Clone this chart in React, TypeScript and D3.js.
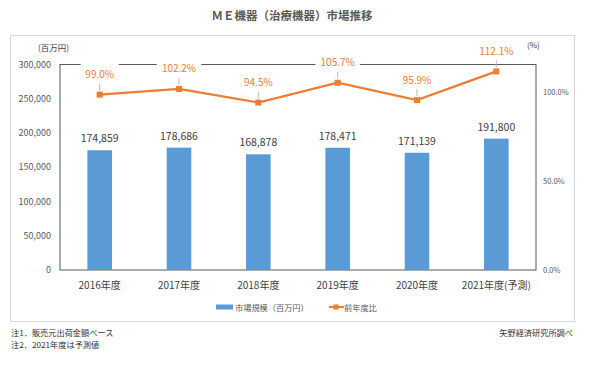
import React, { useEffect, useRef } from 'react';
import * as d3 from 'd3';

const categories = ['2016年度', '2017年度', '2018年度', '2019年度', '2020年度', '2021年度(予測)'];
const marketSize = [174859, 178686, 168878, 178471, 171139, 191800];
const yoyRatio = [99.0, 102.2, 94.5, 105.7, 95.9, 112.1];
const leftTicks = [0, 50000, 100000, 150000, 200000, 250000, 300000];
const rightTicks = [0, 50, 100];

const FONT = '"Noto Sans CJK JP", "Noto Sans", sans-serif';
const BLUE = '#5B9BD5';
const ORANGE = '#ED7D31';

const App = () => {
    const ref = useRef<SVGSVGElement>(null);

    useEffect(() => {
        const svg = d3.select(ref.current);
        svg.selectAll('*').remove();

        const width = 600;
        const height = 368;
        const plot = { left: 60, right: 536, top: 64.5, bottom: 270 };

        svg.append('rect').attr('width', width).attr('height', height).attr('fill', 'white');

        // title
        svg.append('text')
            .attr('x', 292).attr('y', 20)
            .attr('text-anchor', 'middle')
            .attr('font-size', 11.5).attr('font-weight', 'bold')
            .attr('fill', '#595959')
            .text('ＭＥ機器（治療機器）市場推移');

        // outer chart box
        svg.append('rect')
            .attr('x', 10.5).attr('y', 35.5)
            .attr('width', 564).attr('height', 286)
            .attr('fill', 'white').attr('stroke', '#d9d9d9').attr('stroke-width', 1);

        const x = d3.scaleBand().domain(categories).range([plot.left, plot.right]).paddingInner(0).paddingOuter(0);
        const yLeft = d3.scaleLinear().domain([0, 300000]).range([plot.bottom, plot.top]);
        const yRight = d3.scaleLinear().domain([0, 116]).range([plot.bottom, plot.top]);
        const barW = x.bandwidth() * 0.31;
        const cx = (c: string) => (x(c) as number) + x.bandwidth() / 2;

        // left axis labels
        svg.append('g')
            .selectAll('text')
            .data(leftTicks)
            .join('text')
            .attr('x', 51).attr('y', d => yLeft(d))
            .attr('dy', '0.35em')
            .attr('text-anchor', 'end')
            .attr('font-size', 9).attr('fill', '#595959')
            .text(d => d3.format(',')(d));

        // right axis labels
        svg.append('g')
            .selectAll('text')
            .data(rightTicks)
            .join('text')
            .attr('x', 543).attr('y', d => yRight(d))
            .attr('dy', '0.35em')
            .attr('font-size', 7.5).attr('fill', '#595959')
            .text(d => d.toFixed(1) + '%');

        svg.append('text').attr('x', 38).attr('y', 51)
            .attr('font-size', 8.5).attr('fill', '#404040').text('(百万円)');
        svg.append('text').attr('x', 527).attr('y', 48)
            .attr('font-size', 8).attr('fill', '#404040').text('(%)');

        // plot frame
        svg.append('rect')
            .attr('x', plot.left).attr('y', plot.top)
            .attr('width', plot.right - plot.left).attr('height', plot.bottom - plot.top)
            .attr('fill', 'none').attr('stroke', '#595959').attr('stroke-width', 1);

        // bars
        svg.append('g')
            .selectAll('rect')
            .data(marketSize)
            .join('rect')
            .attr('x', (d, i) => cx(categories[i]) - barW / 2)
            .attr('y', d => yLeft(d))
            .attr('width', barW)
            .attr('height', d => plot.bottom - yLeft(d))
            .attr('fill', BLUE);

        svg.append('g')
            .selectAll('text')
            .data(marketSize)
            .join('text')
            .attr('x', (d, i) => cx(categories[i]))
            .attr('y', d => yLeft(d) - 8)
            .attr('text-anchor', 'middle')
            .attr('font-size', 10.5).attr('fill', '#404040')
            .text(d => d3.format(',')(d));

        // x labels
        svg.append('g')
            .selectAll('text')
            .data(categories)
            .join('text')
            .attr('x', d => cx(d)).attr('y', 289)
            .attr('text-anchor', 'middle')
            .attr('font-size', 10).attr('fill', '#404040')
            .text(d => d);

        // ratio line
        const line = d3.line<number>()
            .x((d, i) => cx(categories[i]))
            .y(d => yRight(d));

        svg.append('path')
            .datum(yoyRatio)
            .attr('d', line)
            .attr('fill', 'none').attr('stroke', ORANGE).attr('stroke-width', 2.2);

        svg.append('g')
            .selectAll('rect')
            .data(yoyRatio)
            .join('rect')
            .attr('x', (d, i) => cx(categories[i]) - 3)
            .attr('y', d => yRight(d) - 3)
            .attr('width', 6).attr('height', 6)
            .attr('fill', ORANGE);

        // ratio labels with white boxes and leader lines
        const labels = svg.append('g');
        yoyRatio.forEach((d, i) => {
            const px = cx(categories[i]);
            const ly = yRight(d) - 20;
            const txt = d.toFixed(1) + '%';
            labels.append('line')
                .attr('x1', px).attr('x2', px)
                .attr('y1', ly + 9).attr('y2', yRight(d) - 4)
                .attr('stroke', '#a6a6a6').attr('stroke-width', 0.8);
            labels.append('rect')
                .attr('x', px - txt.length * 3.2 - 3).attr('y', ly - 11)
                .attr('width', txt.length * 6.4 + 6).attr('height', 18)
                .attr('fill', 'white');
            labels.append('text')
                .attr('x', px).attr('y', ly)
                .attr('dy', '0.35em')
                .attr('text-anchor', 'middle')
                .attr('font-size', 10).attr('fill', ORANGE)
                .text(txt);
        });

        // legend
        const lg = svg.append('g');
        lg.append('rect').attr('x', 216).attr('y', 304.5).attr('width', 17).attr('height', 5).attr('fill', BLUE);
        lg.append('text').attr('x', 235).attr('y', 310.5)
            .attr('font-size', 8.2).attr('fill', '#595959').text('市場規模（百万円）');
        lg.append('line').attr('x1', 329).attr('x2', 344).attr('y1', 307).attr('y2', 307)
            .attr('stroke', ORANGE).attr('stroke-width', 2.2);
        lg.append('rect').attr('x', 333.5).attr('y', 304.5).attr('width', 5).attr('height', 5).attr('fill', ORANGE);
        lg.append('text').attr('x', 344).attr('y', 310.5)
            .attr('font-size', 8.2).attr('fill', '#595959').text('前年度比');

        // notes
        svg.append('text').attr('x', 11).attr('y', 336)
            .attr('font-size', 8.2).attr('fill', '#333').text('注1．販売元出荷金額ベース');
        svg.append('text').attr('x', 11).attr('y', 348)
            .attr('font-size', 8.2).attr('fill', '#333').text('注2．2021年度は予測値');
        svg.append('text').attr('x', 573).attr('y', 336)
            .attr('text-anchor', 'end')
            .attr('font-size', 8.2).attr('fill', '#333').text('矢野経済研究所調べ');
    }, []);

    return (
        <div>
            <style>{'body { margin: 0; }'}</style>
            <svg ref={ref} width={600} height={368} style={{ display: 'block', fontFamily: FONT }} />
        </div>
    );
};

export default App;
